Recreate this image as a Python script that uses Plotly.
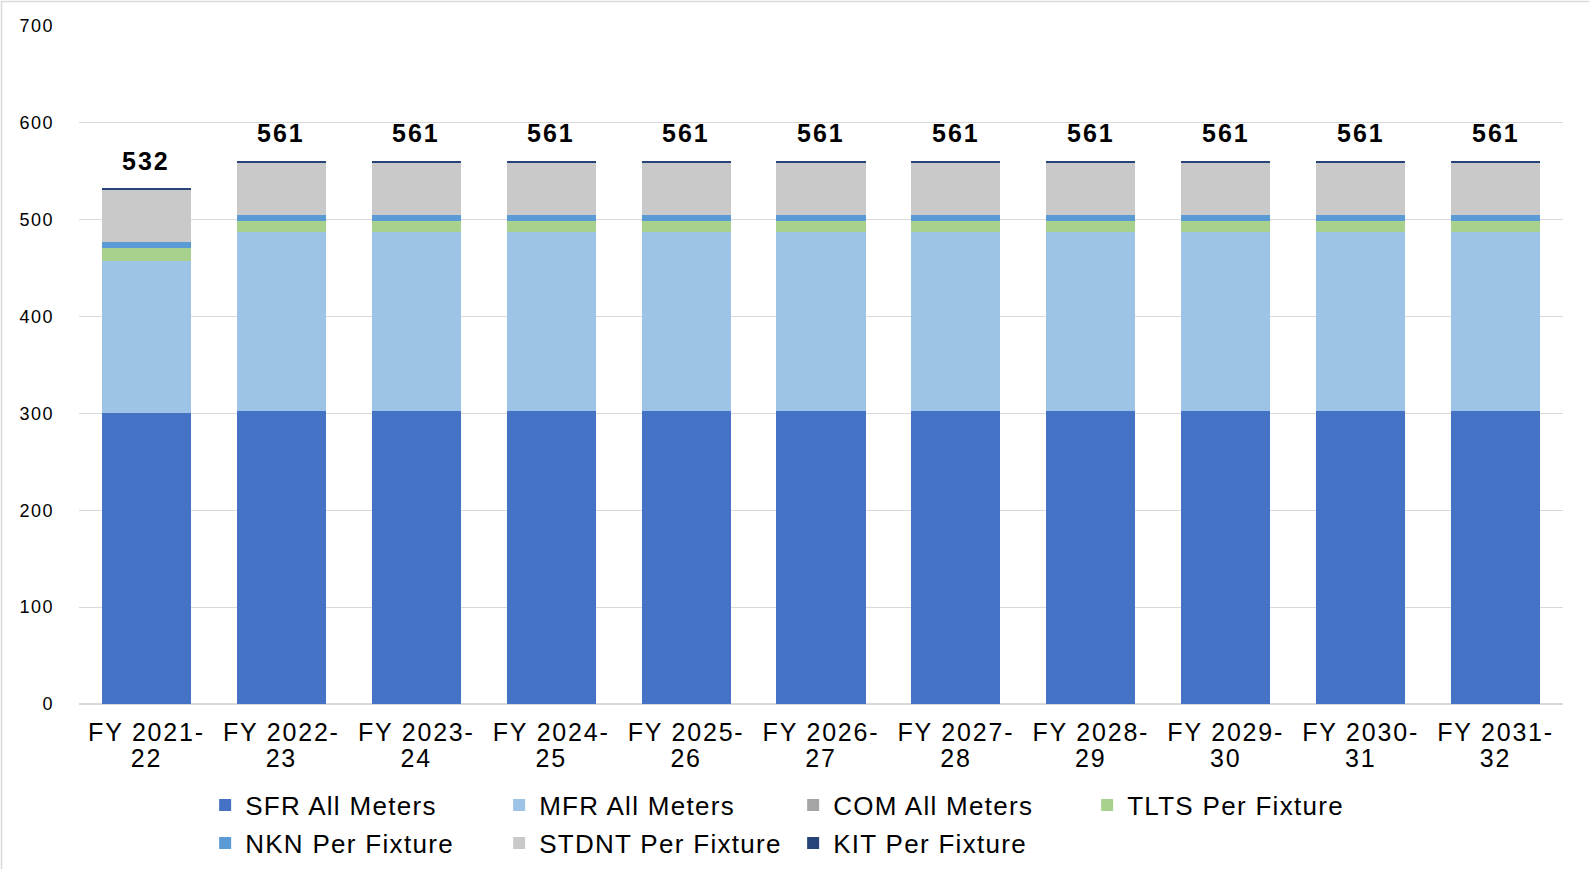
import plotly.graph_objects as go

# Fiscal-year categories
categories = ["FY 2021-22", "FY 2022-23", "FY 2023-24", "FY 2024-25", "FY 2025-26",
              "FY 2026-27", "FY 2027-28", "FY 2028-29", "FY 2029-30", "FY 2030-31",
              "FY 2031-32"]

# Stacked components
sfr_all_meters = [300, 302, 302, 302, 302, 302, 302, 302, 302, 302, 302]
mfr_all_meters = [157, 185, 185, 185, 185, 185, 185, 185, 185, 185, 185]
com_all_meters = [0, 0, 0, 0, 0, 0, 0, 0, 0, 0, 0]
tlts_per_fixture = [13.5, 11.5, 11.5, 11.5, 11.5, 11.5, 11.5, 11.5, 11.5, 11.5, 11.5]
nkn_per_fixture = [6.5, 6, 6, 6, 6, 6, 6, 6, 6, 6, 6]
stdnt_per_fixture = [54, 55, 55, 55, 55, 55, 55, 55, 55, 55, 55]
kit_per_fixture = [1, 1.5, 1.5, 1.5, 1.5, 1.5, 1.5, 1.5, 1.5, 1.5, 1.5]

y_ticks = [0, 100, 200, 300, 400, 500, 600, 700]

# (name, values, colour, legend row)
series = [
    ("SFR All Meters", sfr_all_meters, "#4472C4", "legend"),
    ("MFR All Meters", mfr_all_meters, "#9DC3E6", "legend"),
    ("COM All Meters", com_all_meters, "#A5A5A5", "legend"),
    ("TLTS Per Fixture", tlts_per_fixture, "#A9D18E", "legend"),
    ("NKN Per Fixture", nkn_per_fixture, "#5B9BD5", "legend2"),
    ("STDNT Per Fixture", stdnt_per_fixture, "#C9C9C9", "legend2"),
    ("KIT Per Fixture", kit_per_fixture, "#264478", "legend2"),
]

FONT = "Liberation Sans, Arial, sans-serif"


def wide(text, size=None, spacing=1.5):
    """Wrap text in a span with slightly open letter spacing."""
    style = f"letter-spacing:{spacing}px"
    if size:
        style += f";font-size:{size}px"
    return f'<span style="{style}">{text}</span>'


fig = go.Figure()
for name, values, color, leg in series:
    fig.add_trace(go.Bar(
        x=categories, y=values, name=wide(name, spacing=1.3), legend=leg,
        marker=dict(color=color, line=dict(width=0)),
        hoverinfo="skip",
    ))

# Totals above each stack
totals = [sum(vals) for vals in zip(*[s[1] for s in series])]
for cat, tot in zip(categories, totals):
    fig.add_annotation(
        x=cat, y=tot, text=wide(f"<b>{round(tot)}</b>", spacing=2), showarrow=False,
        yanchor="middle", yshift=28,
        font=dict(family=FONT, size=25, color="#000000"),
    )

# Two-line category labels with tight line spacing
tick_text = []
for c in categories:
    head, tail = c.split("-")
    tick_text.append(wide(f"{head}-", 25, 1.8) + "<br>" + wide(tail, 25, 1.8))

# Outer frame
fig.add_shape(
    type="rect", xref="paper", yref="paper",
    x0=-77.5 / 1484, x1=1 + 60 / 1484, y0=-300 / 678, y1=1 + 24.5 / 678,
    line=dict(color="#D9D9D9", width=1.5), fillcolor="rgba(0,0,0,0)", layer="below",
)

legend_common = dict(
    orientation="h", xanchor="left", yanchor="middle",
    entrywidth=249, entrywidthmode="pixels",
    font=dict(family=FONT, size=26, color="#000000"),
    traceorder="normal", itemclick=False, itemdoubleclick=False,
    bgcolor="rgba(0,0,0,0)",
)

fig.update_layout(
    barmode="stack",
    bargap=0.34,
    width=1589, height=869,
    margin=dict(l=79, r=26, t=26, b=165, autoexpand=False),
    paper_bgcolor="white", plot_bgcolor="white",
    font=dict(family=FONT, color="#000000"),
    showlegend=True,
    legend=dict(x=0.085, y=-0.149, **legend_common),
    legend2=dict(x=0.085, y=-0.205, **legend_common),
    xaxis=dict(
        tickmode="array", tickvals=categories, ticktext=tick_text,
        tickfont=dict(family=FONT, size=20, color="#000000"),
        showgrid=False, showline=False, ticks="", ticklabelstandoff=16,
        fixedrange=True,
    ),
    yaxis=dict(
        range=[0, 700], tickmode="array", tickvals=y_ticks,
        ticktext=[wide(str(v), spacing=1.5) for v in y_ticks],
        tickfont=dict(family=FONT, size=18, color="#000000"),
        showgrid=True, gridcolor="#D9D9D9", gridwidth=1.2,
        zeroline=True, zerolinecolor="#D9D9D9", zerolinewidth=1.5,
        showline=False, ticks="", ticklabelstandoff=24,
        fixedrange=True,
    ),
)

fig.write_html("out.html")
